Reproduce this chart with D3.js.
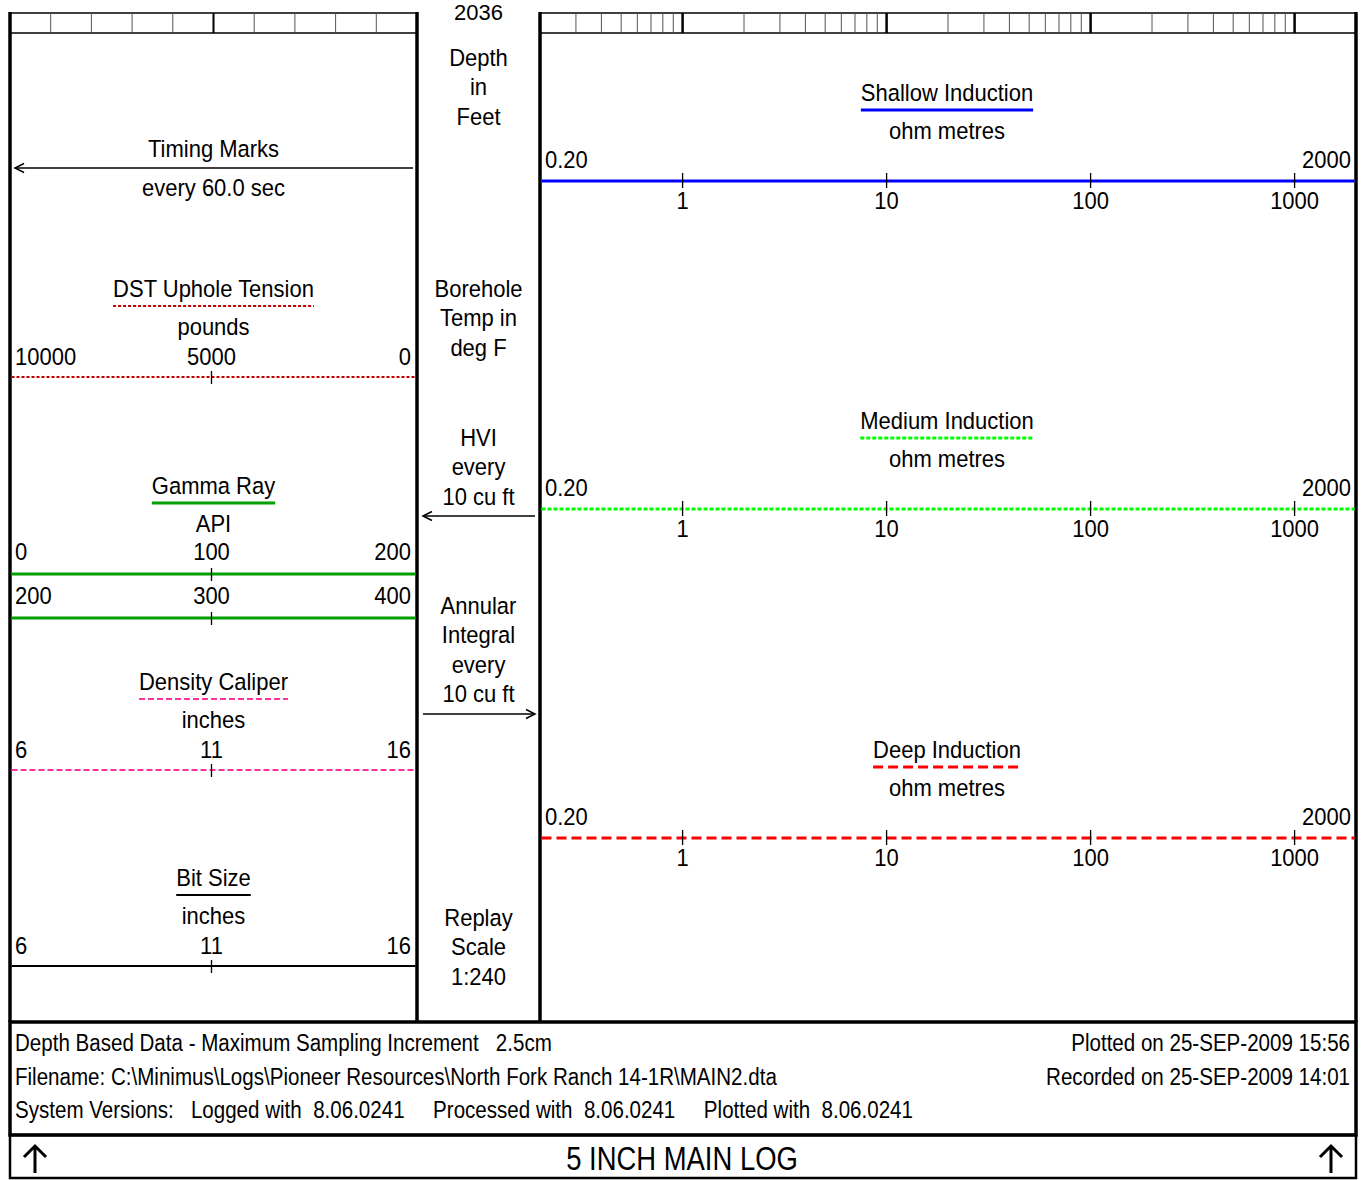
<!DOCTYPE html>
<html><head><meta charset="utf-8">
<script src="https://cdn.jsdelivr.net/npm/d3@7"></script>
<style>
html,body{margin:0;padding:0;background:#fff;}
svg text{font-family:"Liberation Sans",Arial,sans-serif;font-size:22px;fill:#000;white-space:pre;}
</style></head>
<body>
<svg id="c" width="1366" height="1180"></svg>
<script>
// ---------- data ----------
const depthLabel = "2036";
const leftNames = ["DST Uphole Tension", "Gamma Ray", "Density Caliper", "Bit Size"];
const leftUnits = ["pounds", "API", "inches", "inches"];
const leftMin = [10000, 0, 6, 6];
const leftMax = [0, 200, 16, 16];
const gammaWrapMin = 200, gammaWrapMax = 400;
const leftColors = ["#c00000", "#00a000", "#ff3399", "#000000"];
const leftDash = ["3,2", null, "6,3", null];
const leftWidth = [2, 3, 2, 2];

const rightNames = ["Shallow Induction", "Medium Induction", "Deep Induction"];
const rightUnit = "ohm metres";
const rightMin = 0.2, rightMax = 2000;
const rightMinLabel = "0.20", rightMaxLabel = "2000";
const rightTicks = [1, 10, 100, 1000];
const rightColors = ["#0000ff", "#00ff00", "#ff0000"];
const rightDash = [null, "4,2", "10,5"];

const timingTitle = "Timing Marks", timingSub = "every 60.0 sec";
const centerBlocks = [["Depth", "in", "Feet"], ["Borehole", "Temp in", "deg F"], ["HVI", "every", "10 cu ft"], ["Annular", "Integral", "every", "10 cu ft"], ["Replay", "Scale", "1:240"]];
const footerLeft = ["Depth Based Data - Maximum Sampling Increment   2.5cm",
  "Filename: C:\\Minimus\\Logs\\Pioneer Resources\\North Fork Ranch 14-1R\\MAIN2.dta",
  "System Versions:   Logged with  8.06.0241     Processed with  8.06.0241     Plotted with  8.06.0241"];
const footerRight = ["Plotted on 25-SEP-2009 15:56", "Recorded on 25-SEP-2009 14:01"];
const logTitle = "5 INCH MAIN LOG";

// ---------- layout ----------
const svg = d3.select("#c");
const L0 = 10, L1 = 417, R0 = 540, R1 = 1356, TOP = 12, BOT = 1022;
const gridY0 = 13, gridY1 = 33;
const cx = (L1 + R0) / 2;

const leftGrid = d3.scaleLinear().domain([0, 10]).range([L0, L1]);
const rightX = d3.scaleLog().domain([rightMin, rightMax]).range([R0, R1]);

// top grid strip
[[L0, L1], [R0, R1]].forEach(([a, b]) => {
  [gridY0, gridY1].forEach(y => svg.append("line").attr("x1", a).attr("x2", b).attr("y1", y).attr("y2", y)
    .attr("stroke", "#000").attr("stroke-width", 1.5));
});
d3.range(1, 10).forEach(i => {
  svg.append("line").attr("x1", leftGrid(i)).attr("x2", leftGrid(i)).attr("y1", gridY0).attr("y2", gridY1)
    .attr("stroke", i === 5 ? "#000" : "#555").attr("stroke-width", i === 5 ? 2 : 1);
});
rightX.ticks().forEach(v => {
  if (v <= rightMin || v >= rightMax) return;
  const dec = Math.abs(Math.log10(v) - Math.round(Math.log10(v))) < 1e-9;
  svg.append("line").attr("x1", rightX(v)).attr("x2", rightX(v)).attr("y1", gridY0).attr("y2", gridY1)
    .attr("stroke", dec ? "#000" : "#555").attr("stroke-width", dec ? 2.5 : 1);
});

// track borders
[L0, L1, R0, R1].forEach(x => svg.append("line").attr("x1", x).attr("x2", x).attr("y1", TOP).attr("y2", BOT)
  .attr("stroke", "#000").attr("stroke-width", 3.5));

function arrowH(x1, x2, y) {
  svg.append("line").attr("x1", x1).attr("x2", x2).attr("y1", y).attr("y2", y).attr("stroke", "#000").attr("stroke-width", 1.5);
  const d = x2 < x1 ? 1 : -1;
  svg.append("path").attr("d", `M${x2 + d * 9},${y - 4.5}L${x2},${y}L${x2 + d * 9},${y + 4.5}`)
    .attr("fill", "none").attr("stroke", "#000").attr("stroke-width", 1.5);
}
function txt(x, y, s, anchor, size, sx, sy) {
  const t = svg.append("text").attr("x", 0).attr("y", 0)
    .attr("transform", `translate(${x},${y}) scale(${sx || 1},${sy || 1.08})`)
    .attr("text-anchor", anchor || "middle").text(s);
  if (size) t.style("font-size", size + "px");
  return t;
}

// left track
const lc = (L0 + L1) / 2;
txt(lc, 157, timingTitle);
arrowH(413, 15, 168);
txt(lc, 196, timingSub);

const leftUnder = [306, 503, 699, 895];
const labelOffset = [12, 14, 12, 12];
function scaleLine(x, y, col, dash, w, minV, maxV, lo, hi) {
  const ln = svg.append("line").attr("x1", lo).attr("x2", hi).attr("y1", y).attr("y2", y)
    .attr("stroke", col).attr("stroke-width", w);
  if (dash) ln.attr("stroke-dasharray", dash);
  const mid = x((minV + maxV) / 2);
  svg.append("line").attr("x1", mid).attr("x2", mid).attr("y1", y - 6).attr("y2", y + 7).attr("stroke", "#000").attr("stroke-width", 1.3);
}
leftNames.forEach((n, i) => {
  const u = leftUnder[i];
  const t = txt(lc, u - 9, n);
  const w = t.node().getComputedTextLength();
  const ul = svg.append("line").attr("x1", lc - w / 2).attr("x2", lc + w / 2).attr("y1", u).attr("y2", u)
    .attr("stroke", leftColors[i]).attr("stroke-width", leftWidth[i]);
  if (leftDash[i]) ul.attr("stroke-dasharray", leftDash[i]);
  txt(lc, u + 29, leftUnits[i]);
  const lineY = u + 71;
  const o = labelOffset[i];
  const x = d3.scaleLinear().domain([leftMin[i], leftMax[i]]).range([L0, L1 - 4]);
  txt(15, lineY - o, String(leftMin[i]), "start");
  txt(x((leftMin[i] + leftMax[i]) / 2), lineY - o, String((leftMin[i] + leftMax[i]) / 2));
  txt(411, lineY - o, String(leftMax[i]), "end");
  scaleLine(x, lineY, leftColors[i], leftDash[i], leftWidth[i], leftMin[i], leftMax[i], L0 + 1.5, L1 - 1.5);
  if (i === 1) {
    const y2 = lineY + 44;
    const x2 = d3.scaleLinear().domain([gammaWrapMin, gammaWrapMax]).range([L0, L1 - 4]);
    txt(15, y2 - o, String(gammaWrapMin), "start");
    txt(x2((gammaWrapMin + gammaWrapMax) / 2), y2 - o, String((gammaWrapMin + gammaWrapMax) / 2));
    txt(411, y2 - o, String(gammaWrapMax), "end");
    scaleLine(x2, y2, leftColors[i], null, 3, gammaWrapMin, gammaWrapMax, L0 + 1.5, L1 - 1.5);
  }
});

// center column
txt(cx, 20, depthLabel, "middle", 22, 1, 1);
const centerStarts = [66, 297, 446, 614, 926];
centerBlocks.forEach((b, i) => b.forEach((s, j) => txt(cx, centerStarts[i] + j * 29.3, s)));
arrowH(535, 423, 516);
arrowH(423, 535, 714);

// right track
const rc = 947;
const rightUnder = [110, 438, 767];
rightNames.forEach((n, i) => {
  const u = rightUnder[i];
  const t = txt(rc, u - 9, n);
  const w = t.node().getComputedTextLength();
  const ul = svg.append("line").attr("x1", rc - w / 2).attr("x2", rc + w / 2).attr("y1", u).attr("y2", u)
    .attr("stroke", rightColors[i]).attr("stroke-width", 3);
  if (rightDash[i]) ul.attr("stroke-dasharray", rightDash[i]);
  txt(rc, u + 29, rightUnit);
  const lineY = u + 71;
  txt(545, lineY - 13, rightMinLabel, "start");
  txt(1351, lineY - 13, rightMaxLabel, "end");
  const ln = svg.append("line").attr("x1", R0 + 1.5).attr("x2", R1 - 1.5).attr("y1", lineY).attr("y2", lineY)
    .attr("stroke", rightColors[i]).attr("stroke-width", 3);
  if (rightDash[i]) ln.attr("stroke-dasharray", rightDash[i]);
  rightTicks.forEach(v => {
    svg.append("line").attr("x1", rightX(v)).attr("x2", rightX(v)).attr("y1", lineY - 8).attr("y2", lineY + 7)
      .attr("stroke", "#000").attr("stroke-width", 1.3);
    txt(rightX(v), lineY + 28, String(v));
  });
});

// footer
svg.append("rect").attr("x", L0).attr("y", BOT).attr("width", R1 - L0).attr("height", 1135 - BOT)
  .attr("fill", "none").attr("stroke", "#000").attr("stroke-width", 3.5);
svg.append("rect").attr("x", L0).attr("y", 1135).attr("width", R1 - L0).attr("height", 1178 - 1135)
  .attr("fill", "none").attr("stroke", "#000").attr("stroke-width", 2.5);
footerLeft.forEach((s, i) => txt(15, 1051 + i * 33.5, s, "start", 22, 0.935, 1.1));
footerRight.forEach((s, i) => txt(1350, 1051 + i * 33.5, s, "end", 22, 0.935, 1.1));
txt(682, 1170, logTitle, "middle", 28, 0.98, 1.2);
[35, 1331].forEach(x => {
  svg.append("line").attr("x1", x).attr("x2", x).attr("y1", 1146).attr("y2", 1173).attr("stroke", "#000").attr("stroke-width", 3);
  svg.append("path").attr("d", `M${x - 11},${1157}L${x},${1146}L${x + 11},${1157}`).attr("fill", "none")
    .attr("stroke", "#000").attr("stroke-width", 3);
});
</script>
</body></html>
